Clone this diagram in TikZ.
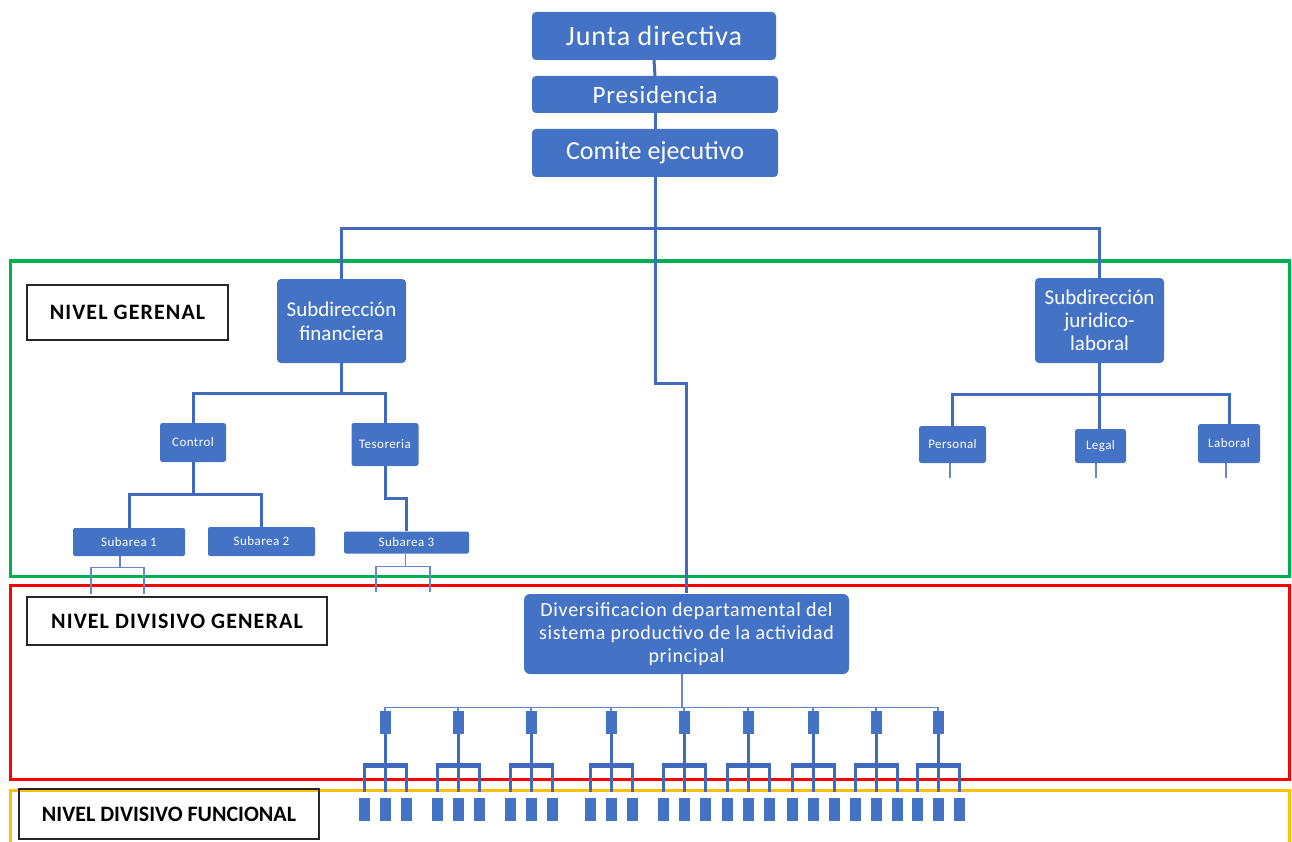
\documentclass[tikz,border=0pt]{standalone}
\usepackage{fontspec}
\setmainfont{Carlito}
\newfontfamily\boxfont[LetterSpace=3.5]{Carlito}
\newfontfamily\lvlfont[LetterSpace=5]{Carlito}
\usetikzlibrary{calc}
\definecolor{orgblue}{HTML}{4472C4}
\definecolor{lineblue}{HTML}{4169BE}
\definecolor{ggreen}{HTML}{00B050}
\definecolor{rred}{HTML}{FF0000}
\definecolor{yyellow}{HTML}{FFC000}
\begin{document}
\begin{tikzpicture}[x=1pt,y=-1pt,
  box/.style={fill=orgblue, text=white, rounded corners=4pt, inner sep=0pt, align=center, draw=none},
  smallbox/.style={box, rounded corners=2.5pt, font=\boxfont\fontsize{13}{15}\selectfont},
  conn/.style={draw=lineblue, line width=3pt},
  barc/.style={draw=lineblue, line width=5pt},
  thinc/.style={draw=lineblue!80, line width=1.3pt},
  frame/.style={line width=3pt},
  lvl/.style={draw=black!85, line width=1.2pt, font=\lvlfont\bfseries\fontsize{22}{26}\selectfont, inner sep=0pt},
  sq/.style={fill=orgblue, minimum width=11pt, minimum height=23pt, inner sep=0pt}]
\useasboundingbox (0,0) rectangle (1292,842);

% level frames
\draw[frame, draw=ggreen] (10,261) rectangle (1289,576);
\draw[frame, draw=rred] (10,585) rectangle (1289,779);
\draw[frame, draw=yyellow] (10,850) -- (10,790) -- (1289,790) -- (1289,850);

% level labels
\node[lvl, minimum width=201pt, minimum height=55pt] (ng) at (127.5,312.5) {NIVEL GERENAL};
\node[lvl, minimum width=300pt, minimum height=48pt] (ndg) at (177,621) {NIVEL DIVISIVO GENERAL};
\node[lvl, font=\bfseries\fontsize{22}{26}\selectfont, minimum width=300pt, minimum height=50pt] (ndf) at (169,814) {NIVEL DIVISIVO FUNCIONAL};

% top nodes
\node[box, minimum width=244pt, minimum height=48pt, font=\boxfont\fontsize{28}{32}\selectfont] (junta) at (654,36) {Junta directiva};
\node[box, minimum width=246pt, minimum height=37pt, font=\boxfont\fontsize{25}{28}\selectfont] (pres) at (655,94.5) {Presidencia};
\node[box, minimum width=246pt, minimum height=48pt, font=\fontsize{26}{30}\selectfont] (comite) at (655,153) {Comite ejecutivo};

\node[box, minimum width=129pt, minimum height=84pt, font=\fontsize{21}{24}\selectfont] (sf) at (341.5,321) {Subdirección\\financiera};
\node[box, minimum width=129pt, minimum height=85pt, font=\fontsize{21}{23}\selectfont] (sj) at (1099.5,320.5) {Subdirección\\juridico-\\laboral};

\node[smallbox, minimum width=66pt, minimum height=39pt] (ctrl) at (193,442.5) {Control};
\node[smallbox, minimum width=67pt, minimum height=43pt] (tes) at (385,444.5) {Tesoreria};
\node[smallbox, rounded corners=2pt, minimum width=112pt, minimum height=28pt] (sa1) at (129,542) {Subarea 1};
\node[smallbox, rounded corners=2pt, minimum width=107pt, minimum height=29pt] (sa2) at (261.5,541.5) {Subarea 2};
\node[smallbox, rounded corners=2pt, minimum width=125pt, minimum height=22pt] (sa3) at (406.5,542.5) {Subarea 3};

\node[smallbox, minimum width=67pt, minimum height=37pt] (pers) at (952.5,444.5) {Personal};
\node[smallbox, minimum width=51pt, minimum height=34pt] (legal) at (1100.5,446) {Legal};
\node[smallbox, minimum width=62pt, minimum height=39pt] (laboral) at (1229,443.5) {Laboral};

\node[box, rounded corners=6pt, minimum width=325pt, minimum height=80pt, font=\boxfont\fontsize{20}{23}\selectfont] (div) at (686.5,634) {Diversificacion departamental del\\sistema productivo de la actividad\\principal};

% top connectors
\draw[conn] (junta.south) -- (pres.north);
\draw[conn] (pres.south) -- (comite.north);
\draw[conn] (comite.south) -- ++(0,51) coordinate (h1) -| (sf.north);
\draw[conn] (h1) -| (sj.north);
\draw[conn] (comite.south) -- ++(0,206) -| ([yshift=1pt]div.north);

% financiera branch
\draw[conn] (sf.south) -- ++(0,30) coordinate (h2) -| (ctrl.north);
\draw[conn] (h2) -| (tes.north);
\draw[conn] (ctrl.south) -- ++(0,32.5) coordinate (h3) -| (sa1.north);
\draw[conn] (h3) -| (sa2.north);
\draw[conn] (tes.south) -- ++(0,32) -| (sa3.north);

\coordinate (t1a) at (91,594);
\coordinate (t1b) at (144,594);
\draw[thinc] ([xshift=-9pt]sa1.south) -- ++(0,11) coordinate (h5) -| (t1a);
\draw[thinc] (h5) -| (t1b);
\coordinate (t3a) at (376,592);
\coordinate (t3b) at (430,592);
\draw[thinc] ([xshift=-1pt]sa3.south) -- ++(0,13) coordinate (h6) -| (t3a);
\draw[thinc] (h6) -| (t3b);

% juridico branch
\draw[conn] (sj.south) -- ++(0,31) coordinate (h4) -| (pers.north);
\draw[conn] (h4) -| (laboral.north);
\draw[conn] (sj.south) -- (sj.south |- legal.north);
\coordinate (pe) at (950,478);
\coordinate (le) at (1096,478);
\coordinate (la) at (1226,478);
\draw[thinc] (pers.south -| pe) -- (pe);
\draw[thinc] (legal.south -| le) -- (le);
\draw[thinc] (laboral.south -| la) -- (la);

% divisional tree
\draw[thinc] ([xshift=-4.5pt]div.south) -- ++(0,33) coordinate (hub);
\foreach \c [count=\i] in {385,458,531,611,684,748,813,876,938} {
  \node[sq] (l\i) at (\c,722.5) {};
  \foreach \j/\dx in {1/-21,2/0,3/21}
    \node[sq] (b\i\j) at (\c+\dx,809.5) {};
  \coordinate (br\i) at (\c,765.5);
  \draw[thinc] (hub) -| (l\i.north);
  \draw[conn] (l\i.south) -- (br\i);
  \draw[barc] ([xshift=-22.5pt]br\i) -- ([xshift=22.5pt]br\i);
  \foreach \j in {1,2,3}
    \draw[conn] (br\i -| b\i\j) -- ([yshift=6pt]b\i\j.north);
}
\end{tikzpicture}
\end{document}
